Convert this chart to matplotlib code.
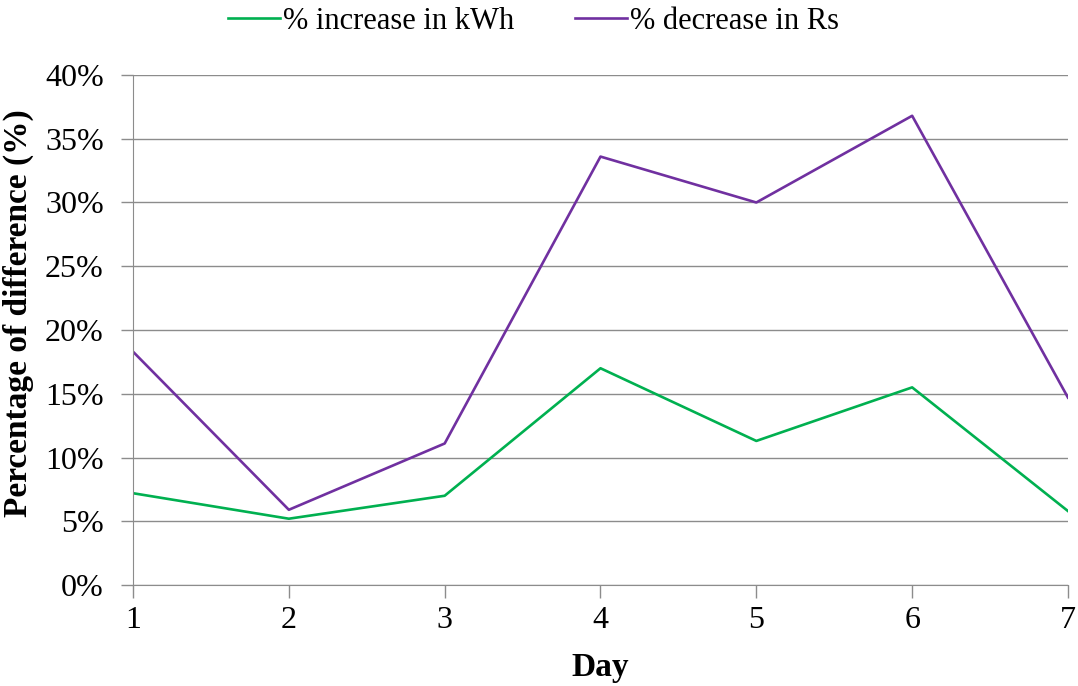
import matplotlib.pyplot as plt
from matplotlib.ticker import PercentFormatter

days = [1, 2, 3, 4, 5, 6, 7]
kwh_increase = [7.2, 5.2, 7.0, 17.0, 11.3, 15.5, 5.8]
rs_decrease = [18.3, 5.9, 11.1, 33.6, 30.0, 36.8, 14.7]

plt.rcParams['font.family'] = ['Liberation Serif', 'DejaVu Serif']

fig = plt.figure(figsize=(10.78, 6.86), dpi=100)
ax = fig.add_axes([0.1234, 0.1472, 0.8673, 0.7435])

ax.plot(days, kwh_increase, color="#00B050", lw=1.9, label="% increase in kWh")
ax.plot(days, rs_decrease, color="#7030A0", lw=1.9, label="% decrease in Rs")

ax.set_xlim(1, 7)
ax.set_ylim(0, 40)
ax.set_xticks(days)
ax.set_yticks(range(0, 41, 5))
ax.yaxis.set_major_formatter(PercentFormatter(decimals=0))

ax.grid(axis="y", color="#8c8c8c", lw=1)
ax.set_axisbelow(True)
for side in ["top", "right"]:
    ax.spines[side].set_visible(False)
for side in ["left", "bottom"]:
    ax.spines[side].set_color("#8c8c8c")
ax.tick_params(axis="both", colors="#8c8c8c", labelcolor="black",
               labelsize=23, length=9, width=1)
ax.tick_params(axis="y", pad=12)
ax.tick_params(axis="x", pad=6)

ax.set_xlabel("Day", fontsize=24, fontweight="bold", labelpad=12)
ax.set_ylabel("Percentage of difference (%)", fontsize=24, fontweight="bold")
ax.yaxis.set_label_coords(-0.106, 0.533)

fig.legend(loc="upper center", bbox_to_anchor=(0.495, 1.03), ncol=2, frameon=False,
           fontsize=22, handlelength=1.7, handletextpad=0.1, columnspacing=2.0)

fig.savefig("out.png", dpi=100)
